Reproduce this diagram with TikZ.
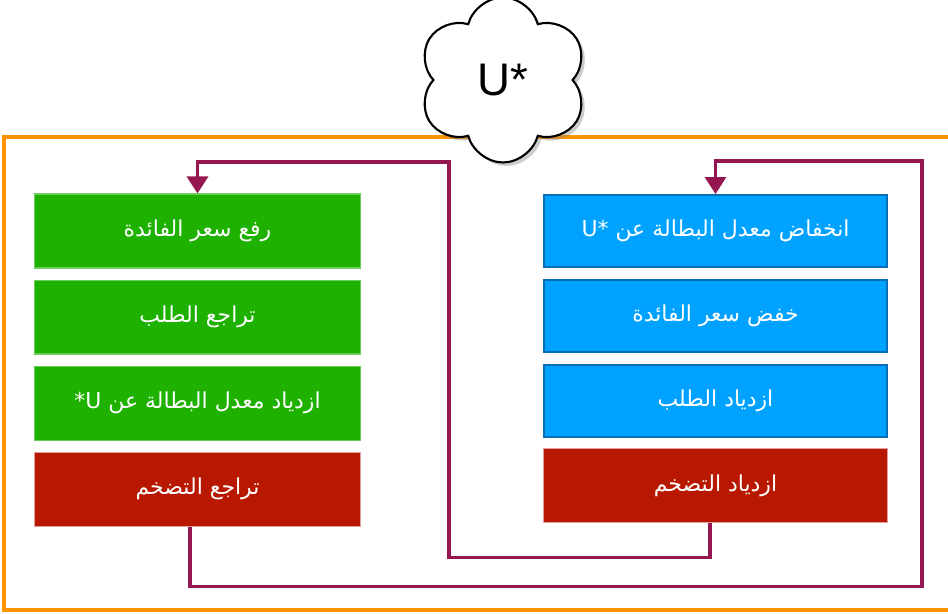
\documentclass[tikz,border=0pt]{standalone}
\usepackage{fontspec}
\setmainfont{Liberation Sans}
\newfontfamily\arabicfont[Script=Arabic]{DejaVu Sans}
\TeXXeTstate=1
\usepackage{xcolor}
\usepackage{tikz}
\usetikzlibrary{shapes.symbols, arrows.meta, positioning, calc, shadows}
\definecolor{myorange}{RGB}{255,147,0}
\definecolor{mygreen}{RGB}{30,177,0}
\definecolor{mygreenline}{RGB}{110,205,90}
\definecolor{myblue}{RGB}{0,162,255}
\definecolor{mybluebdr}{RGB}{10,110,180}
\definecolor{myred}{RGB}{184,24,0}
\definecolor{myredline}{RGB}{225,160,160}
\definecolor{myplum}{RGB}{148,23,81}
\tikzset{
  greenbox/.style={rectangle, draw=mygreenline, fill=mygreen,
    minimum width=6.54cm, minimum height=1.48cm, text=white,
    font=\arabicfont\fontsize{12.5}{14}\selectfont, line width=0.6pt},
  bluebox/.style={rectangle, draw=mybluebdr, fill=myblue,
    minimum width=6.86cm, minimum height=1.44cm, text=white,
    font=\arabicfont\fontsize{12.5}{14}\selectfont, line width=1.1pt},
  redbox/.style={rectangle, draw=myredline, fill=myred,
    text=white, font=\arabicfont\fontsize{12.5}{14}\selectfont,
    minimum height=1.48cm, line width=0.6pt},
  loop/.style={myplum, line width=1.8pt, -{Triangle[length=0.34cm, width=0.42cm]}},
  frame/.style={myorange, line width=2.4pt}
}

\begin{document}
\begin{tikzpicture}[x=0.02cm, y=-0.02cm]
  \useasboundingbox (0,0) rectangle (948,614);
  \clip (0,0) rectangle (948,614);

  % Frame
  \draw[frame] (4,137) rectangle (970,610);

  % Left column
  \node[greenbox] (g1) at (197.5,231) {\beginR رفع سعر الفائدة\endR};
  \node[greenbox, below=0.22cm of g1] (g2) {\beginR تراجع الطلب\endR};
  \node[greenbox, below=0.22cm of g2] (g3) {\beginR ازدياد معدل البطالة عن \beginL *U\endL\endR};
  \node[redbox, minimum width=6.54cm, below=0.22cm of g3] (lr) {\beginR تراجع التضخم\endR};

  % Right column
  \node[bluebox] (b1) at (715.5,231) {\beginR انخفاض معدل البطالة عن \beginL U*\endL\endR};
  \node[bluebox, below=0.22cm of b1] (b2) {\beginR خفض سعر الفائدة\endR};
  \node[bluebox, below=0.22cm of b2] (b3) {\beginR ازدياد الطلب\endR};
  \node[redbox, minimum width=6.9cm, below=0.21cm of b3] (rr) {\beginR ازدياد التضخم\endR};

  % Feedback loops
  \draw[loop] ([xshift=-0.11cm]rr.south) -- ++(0,34) -| (449,162) -| (g1.north);
  \draw[loop] ([xshift=-0.15cm]lr.south) -- ++(0,60) -| (922,161) -| (b1.north);

  % Target
  \node[cloud, cloud puffs=6, aspect=1, draw, fill=white, line width=1.2pt,
    minimum width=3.4cm, minimum height=3.3cm, font=\fontsize{26}{30}\selectfont,
    drop shadow={opacity=0.4, shadow xshift=2pt, shadow yshift=-2pt}] (ustar) at (503,80) {U*};
\end{tikzpicture}
\end{document}
